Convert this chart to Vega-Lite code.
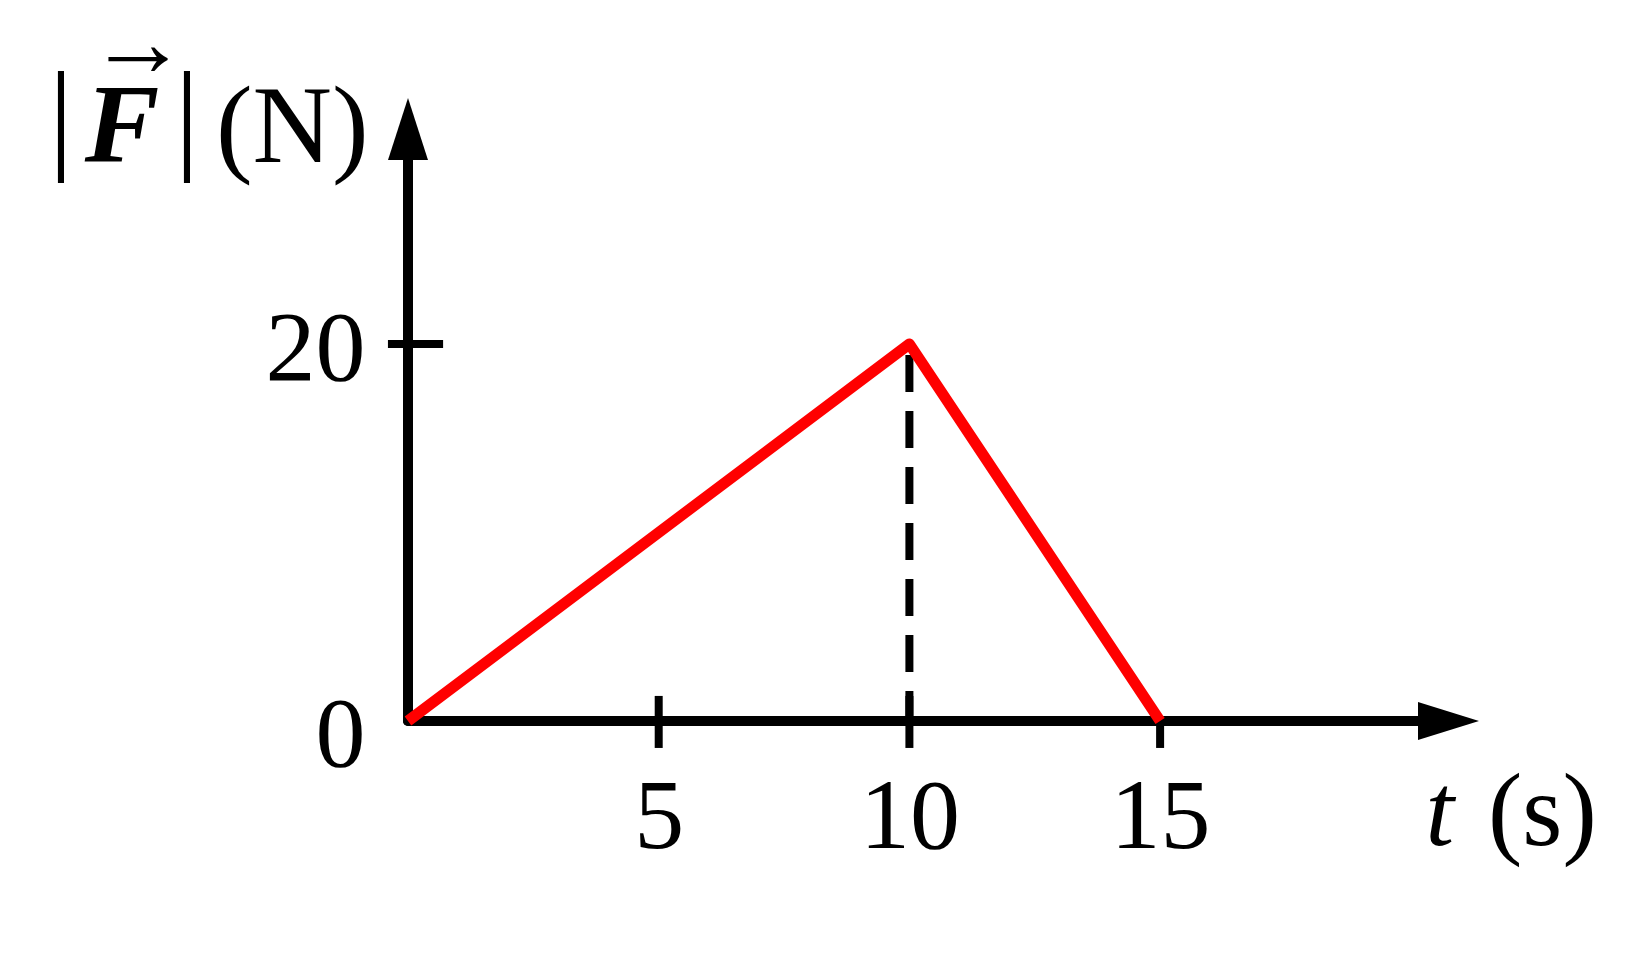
{
  "$schema": "https://vega.github.io/schema/vega-lite/v6.json",
  "width": 1071,
  "height": 623,
  "autosize": {"type": "none"},
  "padding": {"left": 408, "top": 98, "right": 160, "bottom": 239},
  "background": "white",
  "config": {"view": {"stroke": null}},
  "datasets": {
    "force": [{"t": 0, "F": 0}, {"t": 10, "F": 20}, {"t": 15, "F": 0}],
    "xticksBoth": [{"t": 5}, {"t": 10}],
    "xticksBelow": [{"t": 5}, {"t": 10}, {"t": 15}],
    "yticks": [{"F": 20}],
    "one": [{}]
  },
  "layer": [
    {
      "data": {"name": "force"},
      "mark": {"type": "line", "color": "#ff0000", "strokeWidth": 10, "opacity": 0},
      "encoding": {
        "x": {
          "field": "t",
          "type": "quantitative",
          "title": null,
          "scale": {"domain": [0, 21.36], "nice": false, "zero": false},
          "axis": {
            "values": [5, 10, 15],
            "domain": false,
            "grid": false,
            "ticks": false,
            "labelFont": "Liberation Serif",
            "labelFontSize": 100,
            "labelColor": "#000000",
            "labelPadding": 126,
            "labelBaseline": "alphabetic",
            "labelFlush": false,
            "labelOverlap": false,
            "title": null
          }
        },
        "y": {
          "field": "F",
          "type": "quantitative",
          "title": null,
          "scale": {"domain": [0, 33.05], "nice": false, "zero": false},
          "axis": {
            "values": [0, 20],
            "domain": false,
            "grid": false,
            "ticks": false,
            "labelFont": "Liberation Serif",
            "labelFontSize": 100,
            "labelColor": "#000000",
            "labelPadding": 43,
            "labelAlign": "right",
            "labelBaseline": "middle",
            "labelOffset": {"condition": {"test": "datum.value === 0", "value": 14}, "value": 6},
            "labelFlush": false,
            "labelOverlap": false,
            "title": null
          }
        }
      }
    },
    {
      "data": {"name": "one"},
      "mark": {"type": "rule", "color": "#000000", "strokeWidth": 10, "strokeCap": "round"},
      "encoding": {
        "x": {"datum": 0, "type": "quantitative"},
        "x2": {"datum": 20.58},
        "y": {"datum": 0, "type": "quantitative"}
      }
    },
    {
      "data": {"name": "one"},
      "mark": {"type": "rule", "color": "#000000", "strokeWidth": 10, "strokeCap": "round"},
      "encoding": {
        "x": {"datum": 0, "type": "quantitative"},
        "y": {"datum": 0, "type": "quantitative"},
        "y2": {"datum": 30.82}
      }
    },
    {
      "data": {"name": "xticksBoth"},
      "mark": {"type": "rule", "color": "#000000", "strokeWidth": 8},
      "encoding": {
        "x": {"field": "t", "type": "quantitative", "title": null},
        "y": {"datum": 0, "type": "quantitative"},
        "y2": {"datum": 1.33}
      }
    },
    {
      "data": {"name": "xticksBelow"},
      "mark": {"type": "rule", "color": "#000000", "strokeWidth": 8},
      "encoding": {
        "x": {"field": "t", "type": "quantitative", "title": null},
        "y": {"datum": 0, "type": "quantitative"},
        "y2": {"datum": -1.43}
      }
    },
    {
      "data": {"name": "yticks"},
      "mark": {"type": "rule", "color": "#000000", "strokeWidth": 8},
      "encoding": {
        "x": {"datum": -0.4, "type": "quantitative"},
        "x2": {"datum": 0.7},
        "y": {"field": "F", "type": "quantitative", "title": null}
      }
    },
    {
      "data": {"name": "force"},
      "transform": [{"filter": "datum.F > 0"}],
      "mark": {"type": "rule", "color": "#000000", "strokeWidth": 8, "strokeDash": [37, 19], "strokeDashOffset": 45},
      "encoding": {
        "x": {"field": "t", "type": "quantitative", "title": null},
        "y": {"field": "F", "type": "quantitative", "title": null},
        "y2": {"datum": 0}
      }
    },
    {
      "data": {"name": "force"},
      "mark": {"type": "line", "color": "#ff0000", "strokeWidth": 11, "strokeJoin": "round", "strokeCap": "butt"},
      "encoding": {
        "x": {"field": "t", "type": "quantitative", "title": null},
        "y": {"field": "F", "type": "quantitative", "title": null}
      }
    },
    {
      "data": {"name": "one"},
      "mark": {"type": "point", "shape": "M0,0L-2,-0.623L-2,0.623Z", "size": 3721, "filled": true, "color": "#000000", "opacity": 1, "strokeWidth": 0},
      "encoding": {
        "x": {"datum": 21.36, "type": "quantitative"},
        "y": {"datum": 0, "type": "quantitative"}
      }
    },
    {
      "data": {"name": "one"},
      "mark": {"type": "point", "shape": "M0,0L0.645,2L-0.645,2Z", "size": 3844, "filled": true, "color": "#000000", "opacity": 1, "strokeWidth": 0},
      "encoding": {
        "x": {"datum": 0, "type": "quantitative"},
        "y": {"datum": 33.05, "type": "quantitative"}
      }
    },
    {
      "data": {"name": "one"},
      "mark": {"type": "text", "text": "|", "font": "Liberation Serif", "fontSize": 122, "align": "center", "baseline": "alphabetic", "color": "#000000"},
      "encoding": {
        "x": {"datum": -6.92, "type": "quantitative"},
        "y": {"datum": 29.92, "type": "quantitative"}
      }
    },
    {
      "data": {"name": "one"},
      "mark": {"type": "text", "text": "F", "font": "Liberation Serif", "fontSize": 112, "fontStyle": "italic", "fontWeight": "bold", "align": "center", "baseline": "alphabetic", "color": "#000000"},
      "encoding": {
        "x": {"datum": -5.7, "type": "quantitative"},
        "y": {"datum": 29.66, "type": "quantitative"}
      }
    },
    {
      "data": {"name": "one"},
      "mark": {"type": "text", "text": "→", "font": "Liberation Serif", "fontSize": 100, "align": "center", "baseline": "alphabetic", "color": "#000000"},
      "encoding": {
        "x": {"datum": -5.38, "type": "quantitative"},
        "y": {"datum": 34.2, "type": "quantitative"}
      }
    },
    {
      "data": {"name": "one"},
      "mark": {"type": "text", "text": "|", "font": "Liberation Serif", "fontSize": 122, "align": "center", "baseline": "alphabetic", "color": "#000000"},
      "encoding": {
        "x": {"datum": -4.41, "type": "quantitative"},
        "y": {"datum": 29.92, "type": "quantitative"}
      }
    },
    {
      "data": {"name": "one"},
      "mark": {"type": "text", "text": "(N)", "font": "Liberation Serif", "fontSize": 110, "align": "left", "baseline": "alphabetic", "color": "#000000"},
      "encoding": {
        "x": {"datum": -3.83, "type": "quantitative"},
        "y": {"datum": 29.66, "type": "quantitative"}
      }
    },
    {
      "data": {"name": "one"},
      "mark": {"type": "text", "text": "t", "font": "Liberation Serif", "fontSize": 103, "fontStyle": "italic", "align": "center", "baseline": "alphabetic", "color": "#000000"},
      "encoding": {
        "x": {"datum": 20.58, "type": "quantitative"},
        "y": {"datum": -6.58, "type": "quantitative"}
      }
    },
    {
      "data": {"name": "one"},
      "mark": {"type": "text", "text": "(s)", "font": "Liberation Serif", "fontSize": 103, "align": "left", "baseline": "alphabetic", "color": "#000000"},
      "encoding": {
        "x": {"datum": 21.54, "type": "quantitative"},
        "y": {"datum": -6.58, "type": "quantitative"}
      }
    }
  ]
}
